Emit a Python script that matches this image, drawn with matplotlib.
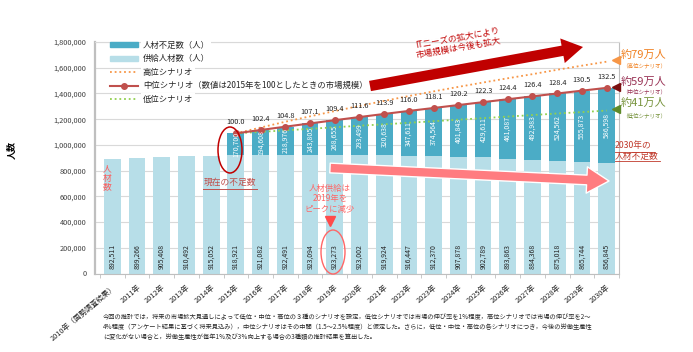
import numpy as np
import matplotlib
matplotlib.use('Agg')
import matplotlib.pyplot as plt
from matplotlib.patches import Ellipse, FancyArrowPatch, Patch
from matplotlib.lines import Line2D

plt.rcParams['font.family'] = ['Noto Sans CJK JP', 'DejaVu Sans']

# data
years = ['2010年（国勢調査結果）', '2011年', '2012年', '2013年', '2014年', '2015年',
         '2016年', '2017年', '2018年', '2019年', '2020年', '2021年', '2022年',
         '2023年', '2024年', '2025年', '2026年', '2027年', '2028年', '2029年', '2030年']
supply = [892511, 899266, 905408, 910492, 915052, 918921, 921082, 922491, 923094,
          923273, 923002, 919924, 916447, 912370, 907878, 902789, 893863, 884368,
          875018, 865744, 856845]
# shortage starts in 2015
shortage = [170700, 194608, 218976, 243805, 268655, 293499, 320638, 347611,
            374564, 401843, 429611, 461087, 492983, 524562, 555873, 586598]
mid_index = [100.0, 102.4, 104.8, 107.1, 109.4, 111.6, 113.9, 116.0, 118.1,
             120.2, 122.3, 124.4, 126.4, 128.4, 130.5, 132.5]
# high / low scenario lines
high = [1089621, 1135000, 1180000, 1222000, 1263000, 1303000, 1342000, 1380000,
        1416000, 1451000, 1485000, 1518000, 1550000, 1584000, 1616000, 1647000]
low = [1089621, 1101000, 1113000, 1125000, 1137000, 1149000, 1160000, 1172000,
       1184000, 1196000, 1208000, 1220000, 1232000, 1244000, 1255000, 1267000]
legend_labels = ['人材不足数（人）', '供給人材数（人）', '高位シナリオ',
                 '中位シナリオ（数値は2015年を100としたときの市場規模）', '低位シナリオ']

c_short = '#4BACC6'
c_supply = '#B7DEE8'
c_mid = '#C0504D'
c_high = '#F79646'
c_low = '#92D050'

W, H = 693, 352
def px(x, y):
    # pixel position -> figure fraction
    return (x / W, 1 - y / H)

fig = plt.figure(figsize=(6.93, 3.52), dpi=100)
ax = fig.add_axes([95 / W, 1 - 273.5 / H, 524 / W, 231.5 / H])

x = np.arange(len(years))
xs = x[5:]
sup_s = np.array(supply[5:])
total = sup_s + np.array(shortage)

ax.bar(x, supply, width=0.68, color=c_supply, zorder=2)
ax.bar(xs, shortage, bottom=sup_s, width=0.68, color=c_short, zorder=2)
ax.plot(xs, high, color=c_high, lw=1.3, ls=(0, (1, 1.6)), zorder=3)
ax.plot(xs, low, color=c_low, lw=1.3, ls=(0, (1, 1.6)), zorder=3)
ax.plot(xs, total, color=c_mid, lw=1.5, marker='o', ms=4, zorder=4)

# labels
for i, v in enumerate(supply):
    ax.annotate(f'{v:,}', (x[i], 0), xytext=(0, 3), textcoords='offset points',
                rotation=90, ha='center', va='bottom', fontsize=5, color='#262626')
for i, v in enumerate(shortage):
    ax.text(xs[i], sup_s[i] + v / 2, f'{v:,}', rotation=90, ha='center', va='center',
            fontsize=5, color='white', zorder=5)
for i, v in enumerate(mid_index):
    ax.annotate(f'{v:.1f}', (xs[i], total[i]), xytext=(0, 5), textcoords='offset points',
                ha='center', va='bottom', fontsize=5.3, color='#262626', zorder=5)

ax.set_xlim(-0.7, 20.45)
ax.set_ylim(0, 1800000)
yt = np.arange(0, 1800001, 200000)
ax.set_yticks(yt)
ax.set_yticklabels([f'{v:,}' for v in yt], fontsize=5.3, color='#404040')
ax.set_xticks(x)
ax.set_xticklabels(years, rotation=40, ha='right', rotation_mode='anchor',
                   fontsize=5.3, color='#262626')
ax.tick_params(axis='both', length=0)
ax.tick_params(axis='x', pad=7)
ax.tick_params(axis='y', pad=6)
ax.set_xticks(np.arange(-0.5, 20.6, 1), minor=True)
ax.tick_params(axis='x', which='minor', length=3, color='#BFBFBF')
ax.yaxis.grid(True, color='#D9D9D9', lw=0.8)
ax.set_axisbelow(True)
ax.spines['left'].set_color('#BFBFBF')
ax.spines['left'].set_linewidth(1.6)
ax.spines['bottom'].set_color('#BFBFBF')
ax.spines['right'].set_color('#BFBFBF')
ax.spines['right'].set_linewidth(0.8)
ax.spines['top'].set_color('#D9D9D9')
ax.spines['top'].set_linewidth(0.8)

fig.text(*px(12, 150), '人数', rotation=90, fontsize=6.5, fontweight='bold',
         ha='center', va='center')

handles = [Patch(color=c_short), Patch(color=c_supply),
           Line2D([], [], color=c_high, lw=1.3, ls=(0, (1, 1.6))),
           Line2D([], [], color=c_mid, lw=1.5, marker='o', ms=4),
           Line2D([], [], color=c_low, lw=1.3, ls=(0, (1, 1.6)))]
leg = ax.legend(handles, legend_labels, loc='upper left', bbox_to_anchor=(0.015, 1.035),
                frameon=False, fontsize=6, handlelength=3.4, handleheight=0.6,
                labelspacing=0.55, borderpad=0.3, handletextpad=0.6)
for t in leg.get_texts():
    t.set_color('#262626')
    t.set_bbox(dict(facecolor='white', edgecolor='none', pad=1))
leg.set_zorder(6)

# big dark red arrow + text
fig.add_artist(FancyArrowPatch(px(370, 86), px(583, 47),
               arrowstyle='simple,tail_width=0.75,head_width=1.8,head_length=1.5',
               mutation_scale=10, transform=fig.transFigure, fc='#C00000', ec='none',
               shrinkA=0, shrinkB=0))
fig.text(*px(458, 43), 'ITニーズの拡大により\n市場規模は今後も拡大', rotation=10,
         rotation_mode='anchor', ha='center', va='center', fontsize=6.2,
         color='#C00000', linespacing=1.05)

# pink arrow
fig.add_artist(FancyArrowPatch(px(330, 168), px(609, 181),
               arrowstyle='simple,tail_width=0.7,head_width=1.9,head_length=1.6',
               mutation_scale=10, transform=fig.transFigure, fc='#FF7C80', ec='white',
               lw=1, shrinkA=0, shrinkB=0, zorder=5))

# current shortage circle
fig.add_artist(Ellipse(px(230, 150), 24 / W, 46 / H, transform=fig.transFigure,
                       fill=False, ec='#C00000', lw=1.1))
fig.text(*px(230, 182), '現在の不足数', ha='center', va='center', fontsize=6.3,
         color='#C0504D')
fig.add_artist(Line2D([203 / W, 257 / W], [1 - 189 / H] * 2, color='#C0504D', lw=0.7,
                      transform=fig.transFigure))

# 人材数 vertical
fig.text(*px(107, 178), '人\n材\n数', ha='center', va='center', fontsize=6.3,
         color='#FF5B5B', linespacing=1.0)

# 2019 peak
fig.text(*px(330, 199), '人材供給は\n2019年を\nピークに減少', ha='center', va='center',
         fontsize=6, color='#FF6666', linespacing=1.15)
fig.add_artist(Line2D([330 / W], [1 - 221 / H], marker='v', ms=7, color='#FF4B4B',
                      transform=fig.transFigure))
fig.add_artist(Ellipse(px(333, 252), 24 / W, 44 / H, transform=fig.transFigure,
                       fill=False, ec='#FF6666', lw=1.0))

# 2030 shortage
fig.text(615 / W, 1 - 151 / H, '2030年の\n人材不足数', ha='left', va='center', fontsize=6.3,
         color='#C0392B', linespacing=1.2)
for yy, x1 in [(151.5, 655), (161.5, 660)]:
    fig.add_artist(Line2D([615 / W, x1 / W], [1 - yy / H] * 2, color='#C0392B', lw=0.6,
                          transform=fig.transFigure))

# right side scenario notes
notes = [('約79万人', '（高位シナリオ）', 55, 66, 60, '#F08020', '#F79646'),
         ('約59万人', '（中位シナリオ）', 82, 92, 87, '#993355', '#7B1010'),
         ('約41万人', '（低位シナリオ）', 103, 115, 109, '#77933C', '#5E8A2A')]
for big, small, yb, ys, ym, ct, cm in notes:
    fig.text(621 / W, 1 - yb / H, big, ha='left', va='center', fontsize=8, color=ct)
    fig.text(644 / W, 1 - ys / H, small, ha='center', va='center', fontsize=4, color=ct)
    fig.add_artist(Line2D([616 / W], [1 - ym / H], marker='<', ms=6, color=cm,
                          transform=fig.transFigure))

# footnote
note = ('今回の推計では，将来の市場拡大見通しによって低位・中位・高位の３種のシナリオを設定，低位シナリオでは市場の伸び率を1％程度，高位シナリオでは市場の伸び率を2～\n'
        '4％程度（アンケート結果に基づく将来見込み），中位シナリオはその中間（1.5～2.5％程度）と仮定した。さらに，低位・中位・高位の各シナリオにつき，今後の労働生産性\n'
        'に変化がない場合と，労働生産性が毎年1％及び3％向上する場合の3種類の推計結果を算出した。')
fig.text(103 / W, 1 - 313 / H, note, ha='left', va='top', fontsize=4.5, color='#262626',
         linespacing=1.3)

fig.savefig('out.png', dpi=100, facecolor='white')
